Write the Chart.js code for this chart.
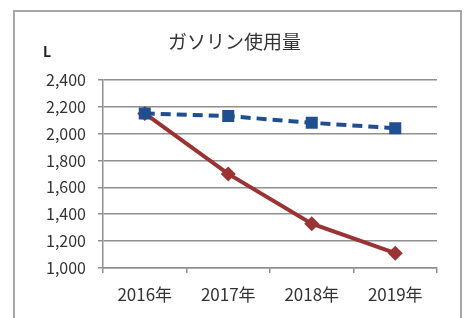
<!DOCTYPE html>
<html>
<head>
<meta charset="utf-8">
<script src="https://cdn.jsdelivr.net/npm/chart.js@4"></script>
<style>
  body { margin: 0; background: #fff; }
  #wrap { position: relative; width: 465px; height: 318px; overflow: hidden; }
  #frame { position: absolute; left: 13px; top: 10px; width: 445px; height: 330px; border: 2px solid #a6a6a6; }
  canvas { position: absolute; left: 0; top: 0; }
</style>
</head>
<body>
<div id="wrap">
  <div id="frame"></div>
  <canvas id="gasChart" width="465" height="318"></canvas>
</div>
<script>
const years = ['2016年', '2017年', '2018年', '2019年'];
const seriesBlue = [2150, 2130, 2080, 2040];
const seriesRed = [2150, 1700, 1330, 1110];
const yMin = 1000;
const yMax = 2400;
const yStep = 200;

const FONT = '"Noto Sans CJK JP", "Noto Sans", sans-serif';

// draws the small unit label in the top-left corner
const unitLabel = {
  id: 'unitLabel',
  afterDraw(chart) {
    const ctx = chart.ctx;
    ctx.save();
    ctx.font = 'bold 14px ' + FONT;
    ctx.fillStyle = '#222';
    ctx.textAlign = 'center';
    ctx.textBaseline = 'middle';
    ctx.fillText('L', 47, 52);
    ctx.restore();
  }
};

const ctx = document.getElementById('gasChart').getContext('2d');

new Chart(ctx, {
  type: 'line',
  data: {
    labels: years,
    datasets: [{
      data: seriesBlue,
      borderColor: '#1f4f8f',
      backgroundColor: '#1f4f8f',
      borderWidth: 4,
      borderDash: [10, 6],
      pointStyle: 'rect',
      pointRadius: 8.5,
      pointBorderWidth: 0,
      tension: 0,
    }, {
      data: seriesRed,
      borderColor: '#9a3333',
      backgroundColor: '#9a3333',
      borderWidth: 4,
      pointStyle: 'rectRot',
      pointRadius: 7.5,
      pointBorderWidth: 0,
      tension: 0,
    }],
  },
  options: {
    responsive: false,
    devicePixelRatio: 1,
    animation: false,
    layout: { padding: { left: 32, right: 28, top: 0, bottom: 0 } },
    plugins: {
      legend: { display: false },
      tooltip: { enabled: false },
      title: {
        display: true,
        text: 'ガソリン使用量',
        color: '#333',
        font: { family: FONT, size: 19, weight: 'normal' },
        padding: { top: 30, bottom: 27 },
      },
    },
    scales: {
      x: {
        offset: true,
        afterFit(scale) { scale.height = 50; },
        grid: { drawOnChartArea: false, offset: true, tickLength: 5, color: '#8f8f8f', lineWidth: 1.5 },
        border: { color: '#8f8f8f', width: 1.5 },
        ticks: { color: '#333', padding: 11, font: { family: FONT, size: 17 } },
      },
      y: {
        min: yMin,
        max: yMax,
        afterFit(scale) { scale.width = 71; },
        grid: { tickLength: 5, color: '#8f8f8f', lineWidth: 1.5 },
        border: { color: '#8f8f8f', width: 1.5 },
        ticks: {
          stepSize: yStep,
          color: '#333',
          padding: 12,
          font: { family: FONT, size: 16 },
          callback: v => v.toLocaleString('en-US'),
        },
      },
    },
  },
  plugins: [unitLabel],
});
</script>
</body>
</html>
